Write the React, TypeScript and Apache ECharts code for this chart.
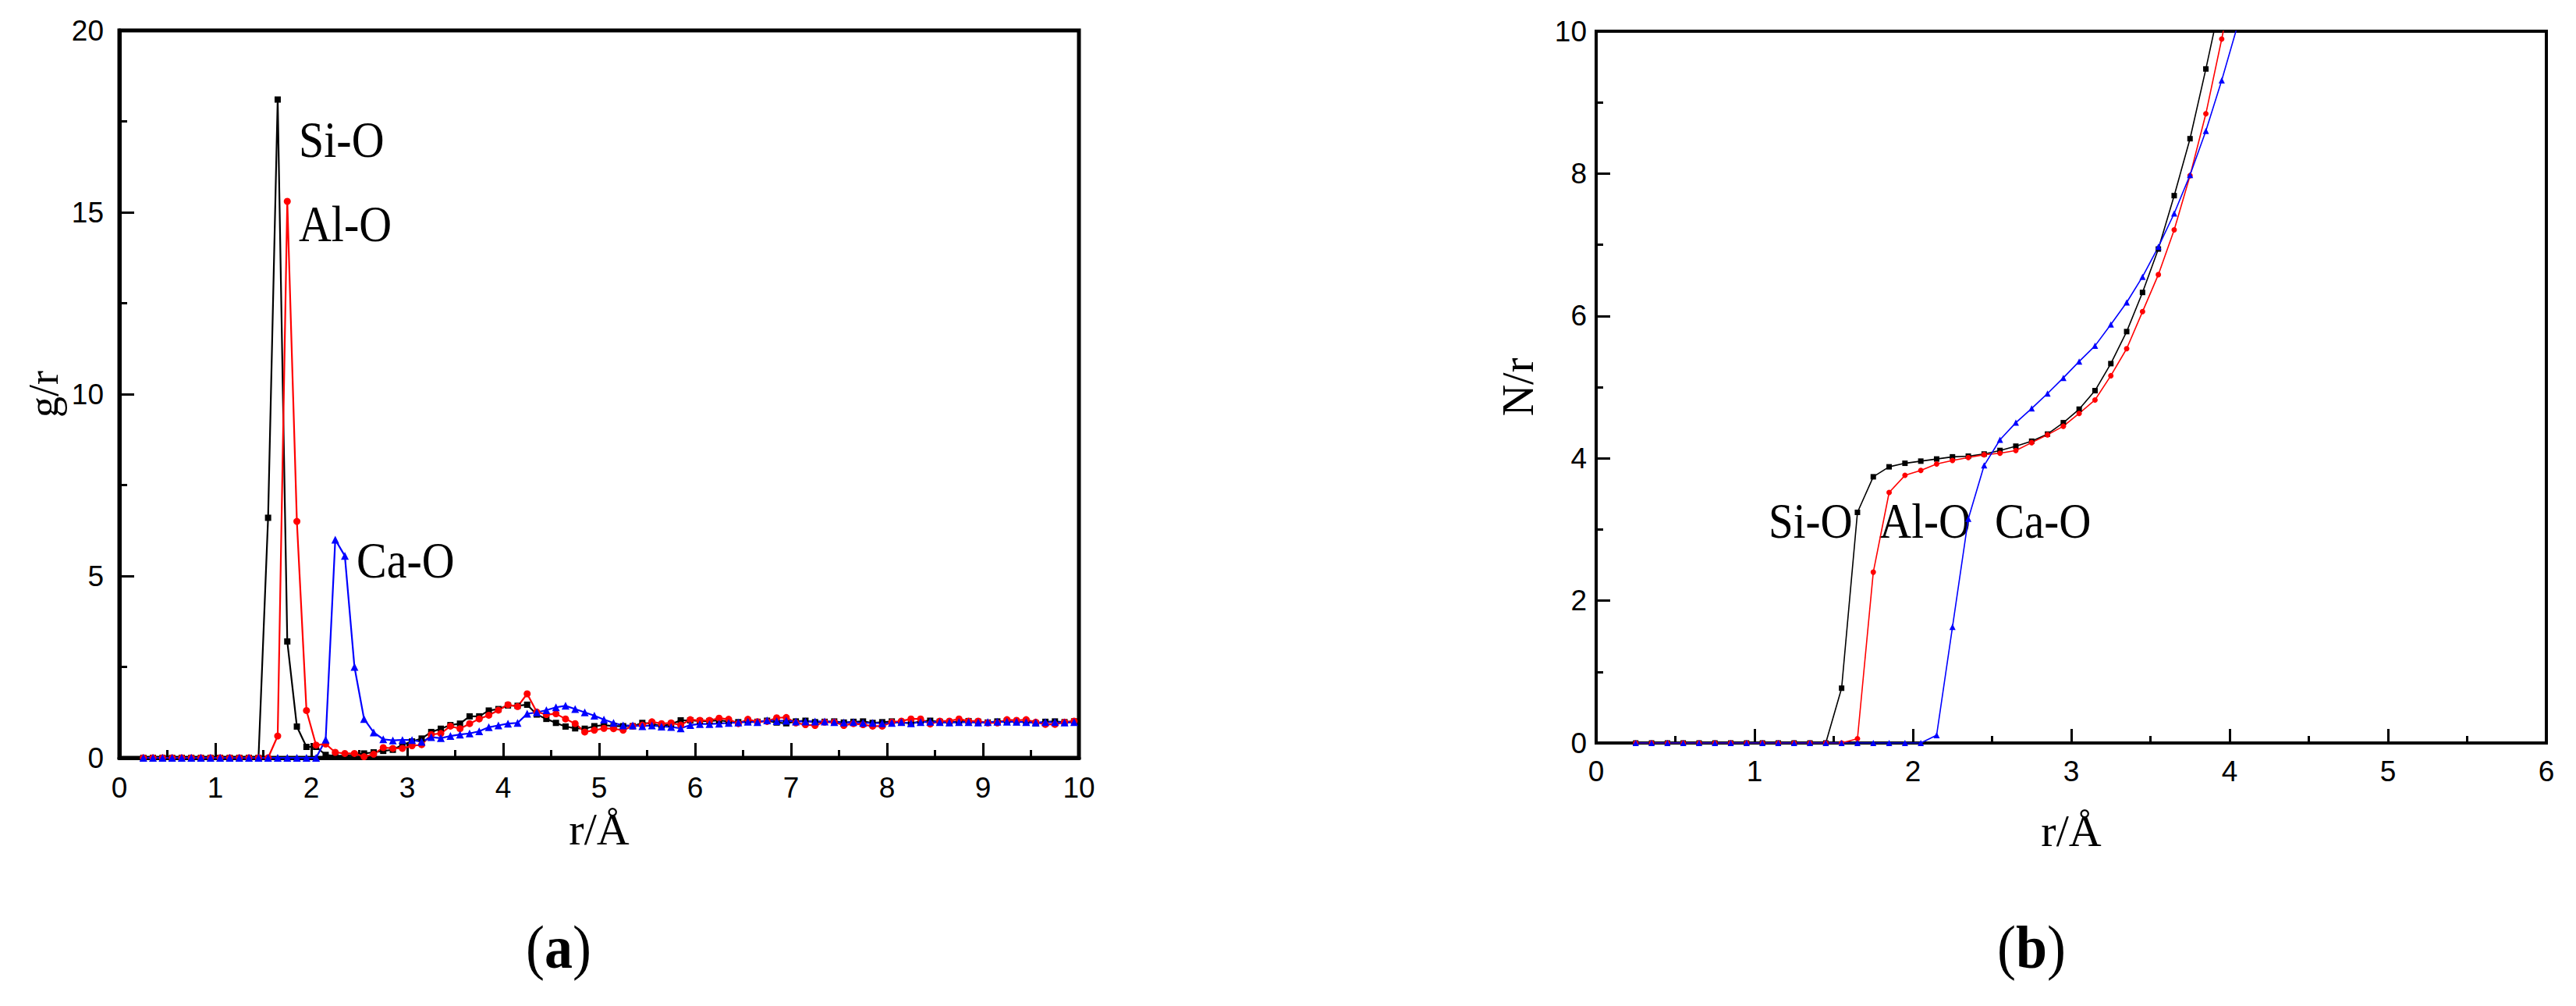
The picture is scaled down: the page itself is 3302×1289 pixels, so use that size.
import React, { useEffect, useRef } from "react";
import * as echarts from "echarts";

// r values (Å) for panel (a)
const R_A = [
  0.25, 0.35, 0.45, 0.55, 0.65, 0.75, 0.85, 0.95, 1.05, 1.15,
  1.25, 1.35, 1.45, 1.55, 1.65, 1.75, 1.85, 1.95, 2.05, 2.15,
  2.25, 2.35, 2.45, 2.55, 2.65, 2.75, 2.85, 2.95, 3.05, 3.15,
  3.25, 3.35, 3.45, 3.55, 3.65, 3.75, 3.85, 3.95, 4.05, 4.15,
  4.25, 4.35, 4.45, 4.55, 4.65, 4.75, 4.85, 4.95, 5.05, 5.15,
  5.25, 5.35, 5.45, 5.55, 5.65, 5.75, 5.85, 5.95, 6.05, 6.15,
  6.25, 6.35, 6.45, 6.55, 6.65, 6.75, 6.85, 6.95, 7.05, 7.15,
  7.25, 7.35, 7.45, 7.55, 7.65, 7.75, 7.85, 7.95, 8.05, 8.15,
  8.25, 8.35, 8.45, 8.55, 8.65, 8.75, 8.85, 8.95, 9.05, 9.15,
  9.25, 9.35, 9.45, 9.55, 9.65, 9.75, 9.85, 9.95,
];

// g(r) values, panel (a)
const SIO_G = [
  0, 0, 0, 0, 0, 0, 0, 0, 0, 0,
  0, 0, 0, 6.6, 18.1, 3.2, 0.86, 0.3, 0.3, 0.08,
  0.05, 0.06, 0.08, 0.12, 0.15, 0.19, 0.22, 0.36, 0.45, 0.53,
  0.71, 0.8, 0.9, 0.94, 1.14, 1.14, 1.3, 1.34, 1.44, 1.43,
  1.46, 1.19, 1.07, 0.96, 0.86, 0.81, 0.8, 0.87, 0.9, 0.87,
  0.87, 0.87, 0.96, 0.94, 0.87, 0.93, 1.03, 1.03, 1.01, 1.01,
  1.03, 1.0, 0.98, 1.0, 0.99, 1.02, 0.97, 0.95, 1.0, 1.02,
  0.98, 0.99, 1.0, 0.97, 0.99, 1.0, 0.96, 0.98, 1.0, 0.97,
  0.95, 1.0, 1.02, 0.99, 0.97, 1.0, 1.01, 0.99, 0.97, 1.0,
  1.01, 0.98, 1.0, 0.95, 0.99, 1.0, 0.98, 1.0,
];

const ALO_G = [
  0, 0, 0, 0, 0, 0, 0, 0, 0, 0,
  0, 0, 0, 0, 0.6, 15.3, 6.5, 1.3, 0.35, 0.38,
  0.15, 0.12, 0.12, 0.03, 0.1, 0.28, 0.26, 0.26, 0.33, 0.36,
  0.64, 0.67, 0.87, 0.8, 0.94, 1.07, 1.17, 1.31, 1.46, 1.41,
  1.76, 1.26, 1.19, 1.21, 1.07, 0.94, 0.71, 0.76, 0.81, 0.8,
  0.76, 0.87, 0.9, 0.99, 0.94, 0.96, 0.9, 1.05, 1.03, 1.03,
  1.09, 1.06, 0.94, 1.06, 0.99, 1.0, 1.1, 1.11, 0.96, 0.91,
  0.89, 0.98, 0.98, 0.89, 0.94, 0.91, 0.87, 0.87, 0.98, 1.01,
  1.07, 1.07, 0.93, 1.01, 1.01, 1.07, 1.01, 1.01, 0.96, 0.96,
  1.05, 1.03, 1.05, 0.98, 0.92, 0.92, 0.98, 1.01,
];

const CAO_G = [
  0, 0, 0, 0, 0, 0, 0, 0, 0, 0,
  0, 0, 0, 0, 0, 0, 0, 0, 0, 0.5,
  6.0, 5.55, 2.5, 1.07, 0.7, 0.51, 0.48, 0.49, 0.49, 0.44,
  0.57, 0.54, 0.6, 0.64, 0.67, 0.73, 0.84, 0.89, 0.94, 0.96,
  1.21, 1.25, 1.31, 1.39, 1.43, 1.34, 1.25, 1.16, 1.05, 0.96,
  0.89, 0.89, 0.87, 0.89, 0.86, 0.85, 0.81, 0.9, 0.93, 0.93,
  0.94, 0.96, 0.97, 0.99, 0.98, 1.03, 1.01, 1.02, 1.0, 1.0,
  1.0, 1.0, 0.98, 0.97, 0.98, 0.96, 0.96, 0.95, 0.96, 0.98,
  0.95, 0.98, 0.99, 0.98, 0.97, 0.98, 0.98, 0.97, 0.98, 0.99,
  0.99, 0.99, 0.98, 0.97, 0.98, 0.98, 0.97, 0.98,
];

// r values (Å) for panel (b)
const R_B = [
  0.25, 0.35, 0.45, 0.55, 0.65, 0.75, 0.85, 0.95, 1.05, 1.15,
  1.25, 1.35, 1.45, 1.55, 1.65, 1.75, 1.85, 1.95, 2.05, 2.15,
  2.25, 2.35, 2.45, 2.55, 2.65, 2.75, 2.85, 2.95, 3.05, 3.15,
  3.25, 3.35, 3.45, 3.55, 3.65, 3.75, 3.85, 3.95, 4.05,
];

// N(r) values, panel (b)
const SIO_N = [
  0, 0, 0, 0, 0, 0, 0, 0, 0, 0,
  0, 0, 0, 0.77, 3.24, 3.74, 3.88, 3.93, 3.96, 3.99,
  4.02, 4.03, 4.06, 4.11, 4.17, 4.24, 4.34, 4.5, 4.69, 4.95,
  5.33, 5.78, 6.33, 6.94, 7.69, 8.49, 9.47, 10.5, 11.6,
];

const ALO_N = [
  0, 0, 0, 0, 0, 0, 0, 0, 0, 0,
  0, 0, 0, 0, 0.06, 2.4, 3.52, 3.76, 3.83, 3.92,
  3.97, 4.01, 4.05, 4.07, 4.11, 4.22, 4.33, 4.45, 4.63, 4.82,
  5.16, 5.54, 6.06, 6.58, 7.21, 7.97, 8.84, 9.89, 11.0,
];

const CAO_N = [
  0, 0, 0, 0, 0, 0, 0, 0, 0, 0,
  0, 0, 0, 0, 0, 0, 0, 0, 0, 0.11,
  1.63, 3.15, 3.9, 4.26, 4.5, 4.7, 4.91, 5.13, 5.36, 5.58,
  5.88, 6.19, 6.55, 6.97, 7.44, 7.98, 8.6, 9.31, 10.08,
];

const SERIES_NAMES = ["Si-O", "Al-O", "Ca-O"];
const COLORS = ["#000000", "#ff0000", "#0000ff"];
const SYMBOLS = ["rect", "circle", "triangle"];

const SANS = '"Liberation Sans", Arial, sans-serif';
const SERIF = '"Liberation Serif", "Times New Roman", serif';

function zip(xs: number[], ys: number[]) {
  return xs.map((x, i) => [x, ys[i]]);
}

function lineSeries(idx: number, data: number[][], axis: number, sizes: number[], lw: number) {
  return {
    type: "line",
    name: SERIES_NAMES[idx] + (axis === 0 ? " g(r)" : " N(r)"),
    xAxisIndex: axis,
    yAxisIndex: axis,
    data,
    symbol: SYMBOLS[idx],
    symbolSize: sizes[idx],
    showSymbol: true,
    clip: true,
    itemStyle: { color: COLORS[idx] },
    lineStyle: { color: COLORS[idx], width: lw },
    emphasis: { disabled: true },
  };
}

function valueAxis(opts: any) {
  const {
    grid, min, max, interval, frame, tickLen, minorLen, labelMargin, name, nameGap, nameSize, labelSize,
  } = opts;
  return {
    type: "value",
    gridIndex: grid,
    min,
    max,
    interval,
    axisLine: { show: true, onZero: false, lineStyle: { color: "#000", width: frame } },
    axisTick: { show: true, inside: true, length: tickLen, lineStyle: { color: "#000", width: 3 } },
    minorTick: { show: true, splitNumber: 2, length: minorLen, lineStyle: { color: "#000", width: 3 } },
    splitLine: { show: false },
    minorSplitLine: { show: false },
    axisLabel: {
      show: true,
      margin: labelMargin,
      color: "#000",
      fontFamily: SANS,
      fontSize: labelSize,
    },
    name,
    nameLocation: "middle",
    nameGap,
    nameTextStyle: { color: "#000", fontFamily: SERIF, fontSize: nameSize },
  };
}

function label(text: string, x: number, y: number, size: number) {
  return {
    type: "text",
    x,
    y,
    scaleY: 1.12,
    style: { text, font: `${size}px ${SERIF}`, fill: "#000", align: "left", verticalAlign: "middle" },
  };
}

function caption(letter: string, x: number, y: number) {
  return {
    type: "text",
    x,
    y,
    scaleY: 1.08,
    style: {
      text: `{n|(}{b|${letter}}{n|)}`,
      align: "center",
      verticalAlign: "middle",
      rich: {
        n: { fontFamily: SERIF, fontSize: 72, fill: "#000", color: "#000" },
        b: { fontFamily: SERIF, fontSize: 72, fontWeight: "bold", fill: "#000", color: "#000" },
      },
    },
  };
}

export default function App() {
  const ref = useRef<HTMLDivElement>(null);

  useEffect(() => {
    if (!ref.current) return;
    const chart = echarts.init(ref.current, null, { renderer: "svg", width: 3302, height: 1289 });

    const sizesA = [8, 9, 10];
    const sizesB = [7, 7, 8];

    const option: any = {
      animation: false,
      backgroundColor: "#ffffff",
      grid: [
        { left: 153, top: 39, width: 1230, height: 932, show: true, borderColor: "#000", borderWidth: 5, backgroundColor: "transparent" },
        { left: 2046, top: 40, width: 1218, height: 912, show: true, borderColor: "#000", borderWidth: 4, backgroundColor: "transparent" },
      ],
      xAxis: [
        valueAxis({ grid: 0, min: 0, max: 10, interval: 1, frame: 5, tickLen: 19, minorLen: 10, labelMargin: 20, name: "r/Å", nameGap: 62, nameSize: 58, labelSize: 37 }),
        valueAxis({ grid: 1, min: 0, max: 6, interval: 1, frame: 4, tickLen: 18, minorLen: 9, labelMargin: 18, name: "r/Å", nameGap: 83, nameSize: 58, labelSize: 37 }),
      ],
      yAxis: [
        valueAxis({ grid: 0, min: 0, max: 20, interval: 5, frame: 5, tickLen: 19, minorLen: 10, labelMargin: 20, name: "g/r", nameGap: 70, nameSize: 54, labelSize: 37 }),
        valueAxis({ grid: 1, min: 0, max: 10, interval: 2, frame: 4, tickLen: 18, minorLen: 9, labelMargin: 12, name: "N/r", nameGap: 72, nameSize: 56, labelSize: 37 }),
      ],
      series: [
        lineSeries(0, zip(R_A, SIO_G), 0, sizesA, 2.2),
        lineSeries(1, zip(R_A, ALO_G), 0, sizesA, 2.2),
        lineSeries(2, zip(R_A, CAO_G), 0, sizesA, 2.2),
        lineSeries(0, zip(R_B, SIO_N), 1, sizesB, 1.6),
        lineSeries(1, zip(R_B, ALO_N), 1, sizesB, 1.6),
        lineSeries(2, zip(R_B, CAO_N), 1, sizesB, 1.6),
      ],
      graphic: [
        label("Si-O", 383, 179, 58),
        label("Al-O", 383, 287, 58),
        label("Ca-O", 457, 718, 58),
        label("Si-O", 2267, 667, 57),
        label("Al-O", 2409, 667, 57),
        label("Ca-O", 2557, 667, 57),
        caption("a", 716, 1214),
        caption("b", 2604, 1214),
      ],
    };

    chart.setOption(option);
    return () => chart.dispose();
  }, []);

  return (
    <div
      ref={ref}
      style={{ position: "fixed", left: 0, top: 0, width: 3302, height: 1289, background: "#fff" }}
    />
  );
}
